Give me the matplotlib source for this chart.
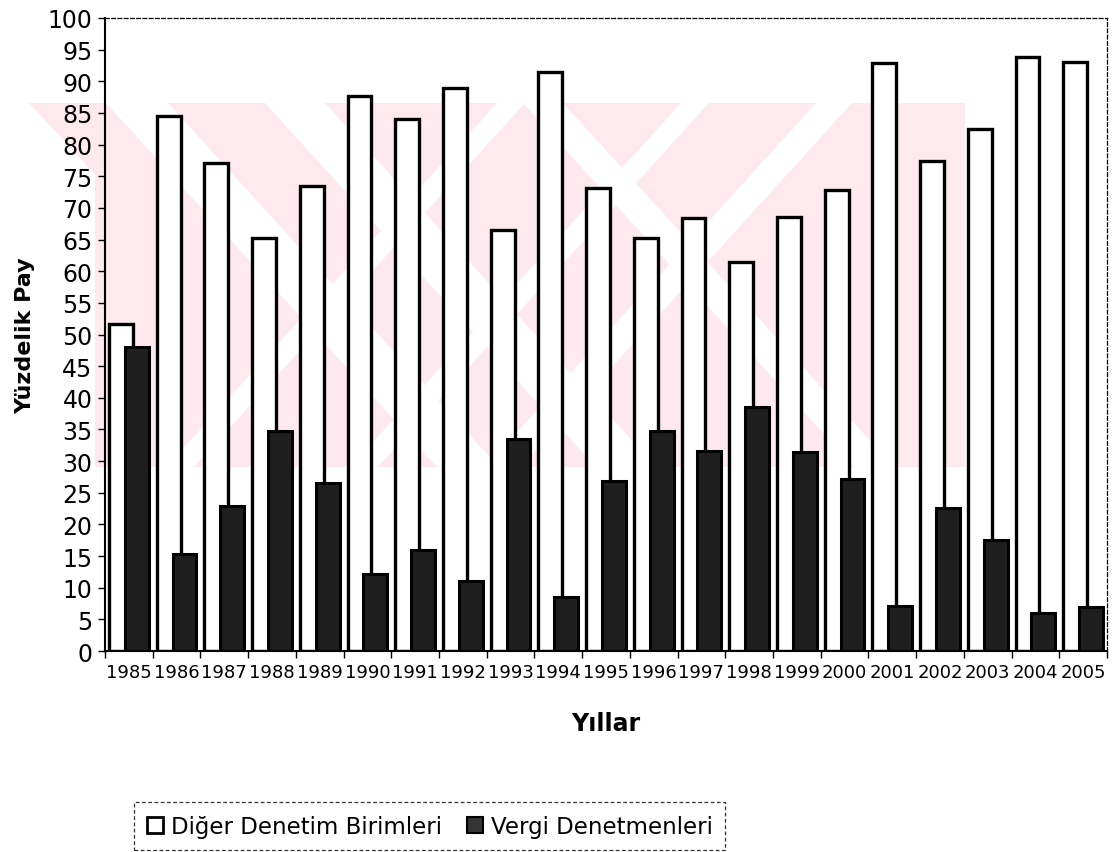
import matplotlib
matplotlib.use("Agg")
import matplotlib.pyplot as plt
from matplotlib.patches import Patch, Polygon
import numpy as np

years = [str(y) for y in range(1985, 2006)]
diger = [51.6, 84.5, 77.1, 65.2, 73.5, 87.6, 84.0, 88.9, 66.5, 91.4, 73.1,
         65.3, 68.4, 61.4, 68.5, 72.8, 92.9, 77.4, 82.5, 93.9, 93.1]
vergi = [48.0, 15.3, 22.9, 34.7, 26.5, 12.2, 16.0, 11.0, 33.5, 8.6, 26.9,
         34.7, 31.6, 38.6, 31.5, 27.2, 7.1, 22.6, 17.5, 6.0, 6.9]

W, H = 1116, 853
fig = plt.figure(figsize=(W / 100, H / 100), dpi=100)
fig.patch.set_facecolor("white")


def px(x, y):
    # pixel position -> figure fraction
    return (x / W, 1 - y / H)


# faint pink background stamp cut by white diagonal stripes
pink = "#fde9ee"
top, bot = 104, 468
drop = (bot - top) / 1.1
fig.patches.append(Polygon([px(29, top), px(965, top), px(965, bot), px(95, bot), px(95, 175)],
                           closed=True, transform=fig.transFigure, facecolor=pink,
                           edgecolor="none", zorder=-3))
for x0, sw in [(106, 62), (265, 60), (523, 40)]:
    pts = [px(x0, top), px(x0 + sw, top), px(x0 + sw + drop, bot), px(x0 + drop, bot)]
    fig.patches.append(Polygon(pts, closed=True, transform=fig.transFigure,
                               facecolor="white", edgecolor="none", zorder=-2))
for x0, sw in [(497, 28), (681, 28), (816, 36)]:
    pts = [px(x0, top), px(x0 + sw, top), px(x0 + sw - drop, bot), px(x0 - drop, bot)]
    fig.patches.append(Polygon(pts, closed=True, transform=fig.transFigure,
                               facecolor="white", edgecolor="none", zorder=-2))

ax = fig.add_axes([105 / W, 1 - 652 / H, 1002 / W, 633 / H])
ax.patch.set_alpha(0)

x = np.arange(len(years))
w = 0.5
ax.bar(x - 0.165, diger, width=w, facecolor="white", edgecolor="black",
       linewidth=2.4, zorder=2, label="Diğer Denetim Birimleri")
ax.bar(x + 0.165, vergi, width=w, facecolor="#1e1e1e", edgecolor="black",
       linewidth=2.2, zorder=3, label="Vergi Denetmenleri")

ax.set_xlim(-0.5, len(years) - 0.5)
ax.set_ylim(0, 100)
ax.set_yticks(np.arange(0, 101, 5))
ax.set_xticks(x)
ax.set_xticklabels(years)
ax.set_xticks(np.arange(-0.5, len(years), 1), minor=True)
ax.tick_params(axis="x", which="major", length=0, labelsize=13, pad=9)
ax.tick_params(axis="x", which="minor", length=5, width=1, direction="out")
ax.tick_params(axis="y", length=5, width=1, direction="out", labelsize=17, pad=4)

for side in ["top", "right"]:
    ax.spines[side].set_linestyle((0, (3, 2)))
    ax.spines[side].set_linewidth(0.9)
for side in ["left", "bottom"]:
    ax.spines[side].set_linewidth(1.5)

ax.set_xlabel("Yıllar", fontsize=17, fontweight="bold", va="top")
ax.xaxis.set_label_coords(0.5, -0.095)
ax.set_ylabel("Yüzdelik Pay", fontsize=16, fontweight="bold")
ax.yaxis.set_label_coords(-0.07, 0.5)

handles = [Patch(facecolor="white", edgecolor="black", linewidth=2),
           Patch(facecolor="#333333", edgecolor="black", linewidth=1.5)]
leg = fig.legend(handles, ["Diğer Denetim Birimleri", "Vergi Denetmenleri"],
                 loc="upper left", bbox_to_anchor=px(134, 803), ncol=2,
                 fontsize=16.5, frameon=True, fancybox=False, borderaxespad=0,
                 handlelength=0.7, handleheight=0.7, handletextpad=0.35,
                 columnspacing=1.1, borderpad=0.55)
frame = leg.get_frame()
frame.set_edgecolor("black")
frame.set_linestyle((0, (3, 2)))
frame.set_linewidth(0.9)

fig.savefig("out.png", dpi=100)
